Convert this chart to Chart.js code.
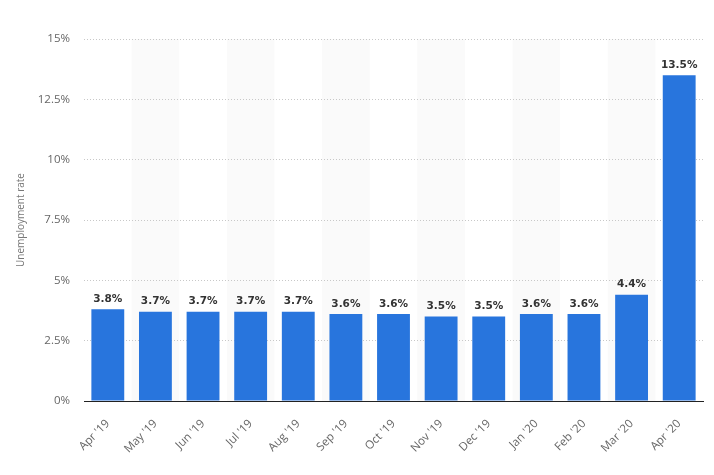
<!DOCTYPE html>
<html>
<head>
<meta charset="utf-8">
<script src="https://cdn.jsdelivr.net/npm/chart.js@4"></script>
<style>
  html, body { margin: 0; padding: 0; background: #fff; }
  #wrap { width: 714px; height: 475px; }
</style>
</head>
<body>
<div id="wrap"><canvas id="chart" width="714" height="475"></canvas></div>
<script>
const months = ["Apr '19", "May '19", "Jun '19", "Jul '19", "Aug '19", "Sep '19", "Oct '19",
  "Nov '19", "Dec '19", "Jan '20", "Feb '20", "Mar '20", "Apr '20"];
const rates = [3.8, 3.7, 3.7, 3.7, 3.7, 3.6, 3.6, 3.5, 3.5, 3.6, 3.6, 4.4, 13.5];
const yTicks = [0, 2.5, 5, 7.5, 10, 12.5, 15];

// shaded bands behind every other month
const bands = {
  id: "bands",
  beforeDraw(chart) {
    const { ctx, chartArea, scales } = chart;
    const x = scales.x;
    const w = x.width / months.length;
    ctx.save();
    ctx.fillStyle = "#fafafa";
    months.forEach((m, i) => {
      if (i % 2 === 1) {
        ctx.fillRect(x.getPixelForValue(i) - w / 2, chartArea.top, w, chartArea.bottom - chartArea.top);
      }
    });
    ctx.restore();
  }
};

// value labels over the bars
const valueLabels = {
  id: "valueLabels",
  afterDatasetsDraw(chart) {
    const { ctx } = chart;
    const meta = chart.getDatasetMeta(0);
    ctx.save();
    ctx.font = "bold 10.5px 'DejaVu Sans', sans-serif";
    ctx.fillStyle = "#333";
    ctx.textAlign = "center";
    ctx.textBaseline = "bottom";
    meta.data.forEach((bar, i) => {
      ctx.fillText(rates[i].toFixed(1) + "%", bar.x, bar.y - 5);
    });
    ctx.restore();
  }
};

const ctx = document.getElementById("chart").getContext("2d");
const chart = new Chart(ctx, {
  type: "bar",
  data: {
    labels: months,
    datasets: [
      {
        label: "Unemployment rate",
        data: rates,
        backgroundColor: "#2875dd",
        barPercentage: 0.69,
        categoryPercentage: 1,
      },
    ],
  },
  options: {
    responsive: false,
    animation: false,
    layout: { padding: { top: 39, right: 11, left: 15, bottom: 0 } },
    plugins: { legend: { display: false }, tooltip: { enabled: false } },
    scales: {
      x: {
        grid: { display: false },
        border: { display: true, color: "#222", width: 1 },
        ticks: {
          color: "#666",
          font: { family: "'Open Sans', sans-serif", size: 11.5 },
          minRotation: 45,
          maxRotation: 45,
          padding: 8,
        },
        afterFit(scale) { scale.height = 74; },
      },
      y: {
        min: 0,
        max: 15,
        afterBuildTicks(scale) { scale.ticks = yTicks.map((v) => ({ value: v })); },
        grid: { color: "#c8c8c8", drawTicks: false },
        border: { display: false, dash: [1, 2] },
        ticks: {
          color: "#666",
          font: { family: "'Open Sans', sans-serif", size: 11.5 },
          padding: 14,
          callback: (v) => v + "%",
        },
        title: {
          display: true,
          text: "Unemployment rate",
          color: "#777",
          font: { family: "'Open Sans', sans-serif", size: 10 },
          padding: { top: 0, bottom: 0 },
        },
        afterFit(scale) { scale.width = 69; },
      },
    },
  },
  plugins: [bands, valueLabels],
});
</script>
</body>
</html>
